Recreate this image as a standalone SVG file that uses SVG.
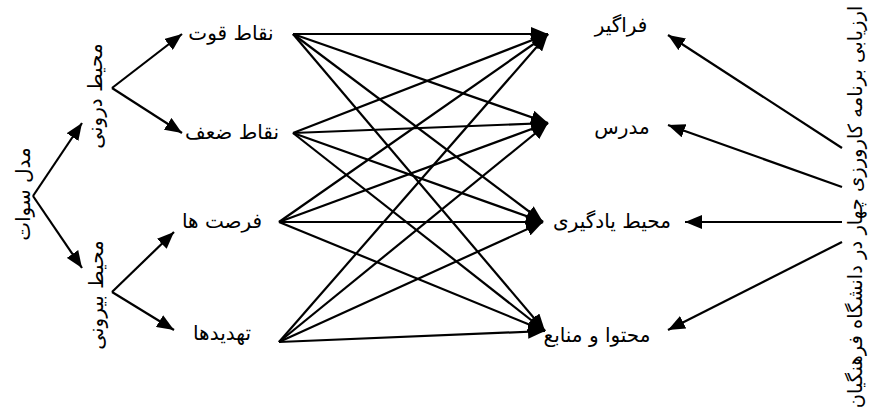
<svg xmlns="http://www.w3.org/2000/svg" width="870" height="414" viewBox="0 0 870 414">
<style>
text{font-family:"DejaVu Sans","Noto Sans",sans-serif;font-size:20px;fill:#000;text-anchor:middle}
.c line{stroke:#000;stroke-width:2.2;marker-end:url(#ah)}
</style>
<defs>
<marker id="ah" markerUnits="userSpaceOnUse" markerWidth="17" markerHeight="14" viewBox="0 0 17 14" refX="17" refY="7" orient="auto">
<path d="M0,0 L17,7 L0,14 z" fill="#000"/>
</marker>
</defs>
<rect width="870" height="414" fill="#fff"/>
<g class="c" id="connectors">
<line x1="33" y1="196" x2="82" y2="123"/>
<line x1="33" y1="196" x2="82" y2="268"/>
<line x1="112" y1="88" x2="182" y2="34"/>
<line x1="112" y1="88" x2="182" y2="133"/>
<line x1="112" y1="292" x2="174" y2="232"/>
<line x1="112" y1="292" x2="174" y2="330"/>
<line x1="293" y1="34" x2="548" y2="34"/>
<line x1="293" y1="34" x2="548" y2="123"/>
<line x1="293" y1="34" x2="543" y2="222"/>
<line x1="293" y1="34" x2="545" y2="331"/>
<line x1="293" y1="133" x2="548" y2="34"/>
<line x1="293" y1="133" x2="548" y2="123"/>
<line x1="293" y1="133" x2="543" y2="222"/>
<line x1="293" y1="133" x2="545" y2="331"/>
<line x1="279" y1="222" x2="548" y2="34"/>
<line x1="279" y1="222" x2="548" y2="123"/>
<line x1="279" y1="222" x2="543" y2="222"/>
<line x1="279" y1="222" x2="545" y2="331"/>
<line x1="279" y1="342" x2="548" y2="34"/>
<line x1="279" y1="342" x2="548" y2="123"/>
<line x1="279" y1="342" x2="543" y2="222"/>
<line x1="279" y1="342" x2="545" y2="331"/>
<line x1="842" y1="148" x2="668" y2="35"/>
<line x1="842" y1="187" x2="668" y2="125"/>
<line x1="842" y1="222" x2="685" y2="222"/>
<line x1="842" y1="242" x2="668" y2="330"/>
</g>
<g id="swot"><text transform="translate(30,194) rotate(-90)">مدل سوات</text></g>
<g id="internal"><text transform="translate(102,96) rotate(-90)">محیط درونی</text></g>
<g id="external"><text transform="translate(103,295) rotate(-90)">محیط بیرونی</text></g>
<g id="strengths"><text x="231" y="40">نقاط قوت</text></g>
<g id="weaknesses"><text x="232" y="139">نقاط ضعف</text></g>
<g id="opportunities"><text x="222" y="228">فرصت ها</text></g>
<g id="threats"><text x="222" y="340">تهدیدها</text></g>
<g id="learner"><text x="621" y="32">فراگیر</text></g>
<g id="teacher"><text x="622" y="134">مدرس</text></g>
<g id="environment"><text x="612" y="228">محیط یادگیری</text></g>
<g id="content"><text x="597" y="342">محتوا و منابع</text></g>
<g id="evaluation"><text transform="translate(862,207) rotate(-90)" style="font-size:19.5px">ارزیابی برنامه کارورزی چهار در دانشگاه فرهنگیان</text></g>
</svg>
